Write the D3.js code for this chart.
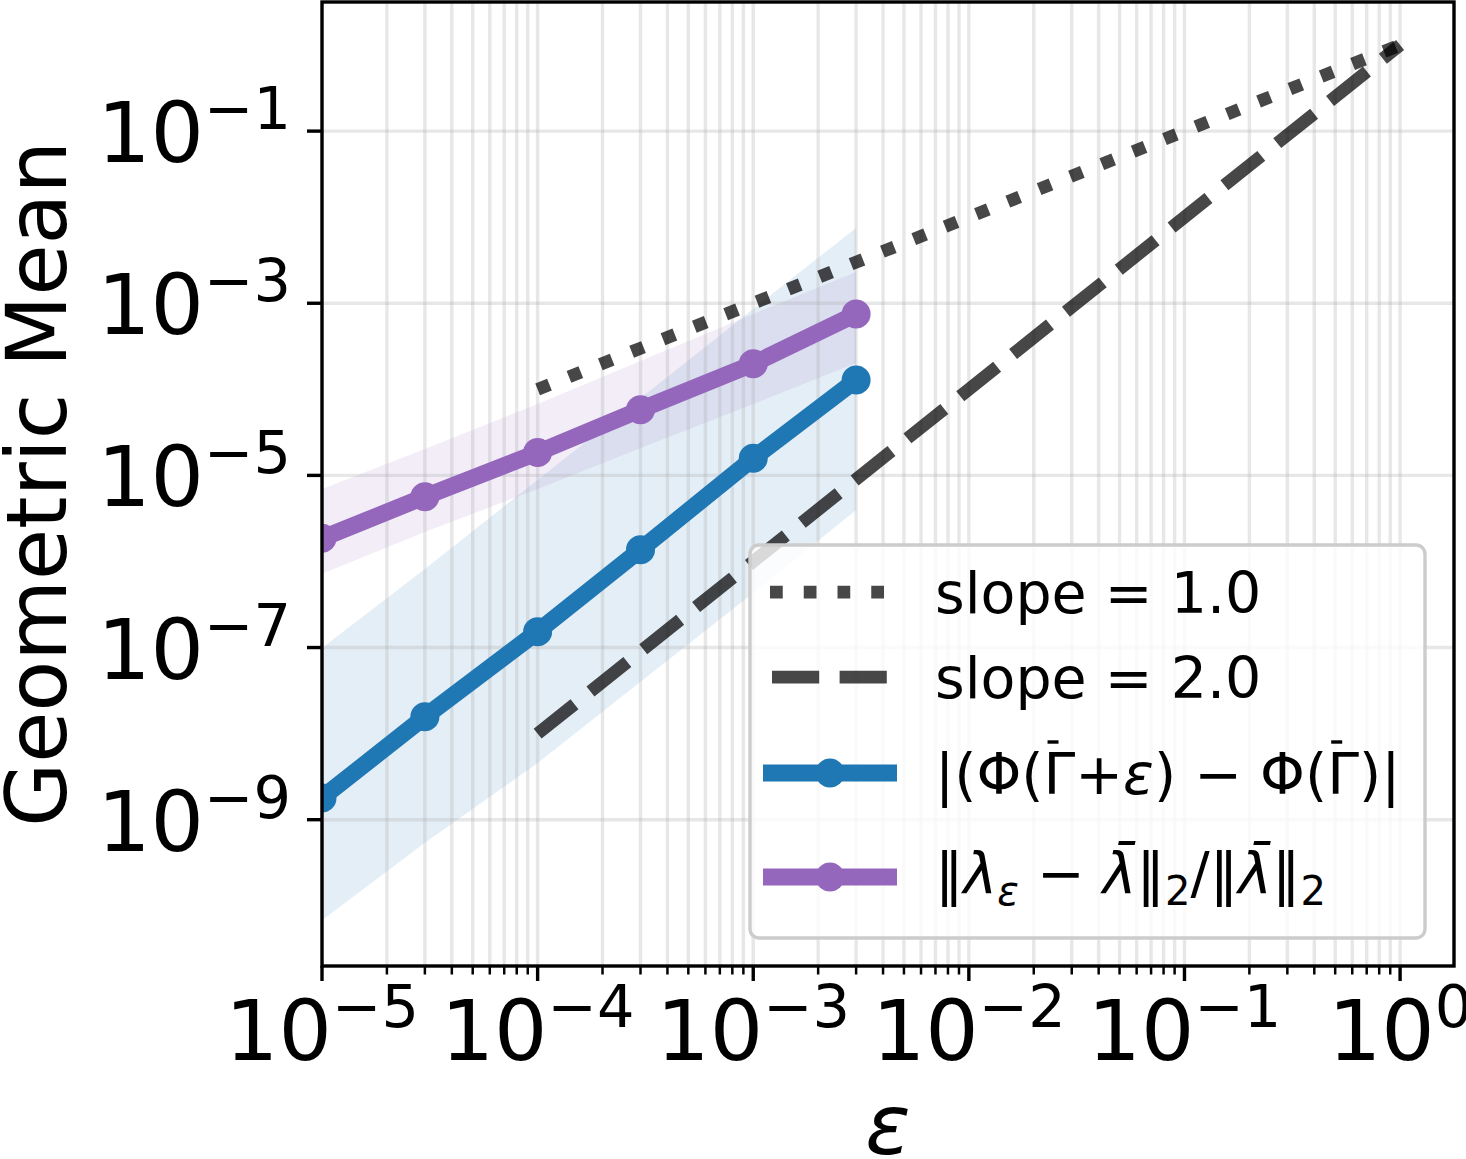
<!DOCTYPE html>
<html>
<head>
<meta charset="utf-8">
<script src="https://cdn.jsdelivr.net/npm/d3@7"></script>
<style>
  body { margin: 0; background: #fff; }
  text { font-family: "DejaVu Sans", sans-serif; fill: #000; }
</style>
</head>
<body>
<div id="chart"></div>
<script>
// values
const eps = [1e-5, 3e-5, 1e-4, 3e-4, 1e-3, 3e-3]
const phiMean = [1.79e-9, 1.57e-8, 1.53e-7, 1.37e-6, 1.58e-5, 1.28e-4]
const phiLow = [6.8e-11, 5.4e-10, 4.56e-9, 4.0e-8, 4.3e-7, 3.96e-6]
const phiHigh = [9.9e-8, 8.2e-7, 8.85e-6, 7.9e-5, 8.6e-4, 7.5e-3]
const lamMean = [1.86e-6, 5.66e-6, 1.84e-5, 5.8e-5, 1.98e-4, 7.5e-4]
const lamLow = [7.2e-7, 2.2e-6, 6.95e-6, 2.08e-5, 6.76e-5, 2.02e-4]
const lamHigh = [6.95e-6, 2.03e-5, 6.76e-5, 2.13e-4, 7.5e-4, 2.31e-3]
const refX = [1e-4, 1e0]
const slopes = [1.0, 2.0]
const xTickExp = [-5, -4, -3, -2, -1, 0]
const yTickExp = [-1, -3, -5, -7, -9]

const W = 1466, H = 1159
const L = 322, R = 1454, T = 2, B = 966
const blue = "#1f77b4", purple = "#9467bd"

let svg = d3.select("#chart").append("svg")
    .attr("width", W)
    .attr("height", H)

let x = d3.scaleLog().domain([1e-5, Math.pow(10, 0.25)]).range([L, R])
let y = d3.scaleLog().domain([Math.pow(10, -10.7), Math.pow(10, 0.5)]).range([B, T])

svg.append("clipPath").attr("id", "clip")
    .append("rect").attr("x", L).attr("y", T).attr("width", R - L).attr("height", B - T)

let plot = svg.append("g").attr("clip-path", "url(#clip)")

// bands
let area = d3.area().x(d => x(d.e)).y0(d => y(d.lo)).y1(d => y(d.hi))
let bands = [
    {c: blue, d: eps.map((e, i) => ({e: e, lo: phiLow[i], hi: phiHigh[i]}))},
    {c: purple, d: eps.map((e, i) => ({e: e, lo: lamLow[i], hi: lamHigh[i]}))}
]
bands.forEach(b => {
    plot.append("path").attr("d", area(b.d))
        .attr("fill", b.c).attr("fill-opacity", 0.12)
})

// grid
let minor = []
xTickExp.forEach(p => {
    for (let k = 1; k <= 9; k++) {
        let v = k * Math.pow(10, p)
        if (v <= x.domain()[1]) minor.push(v)
    }
})
plot.selectAll(".vgrid").data(minor).enter().append("line")
    .attr("x1", d => x(d)).attr("x2", d => x(d))
    .attr("y1", T).attr("y2", B)
    .attr("stroke", "#b0b0b0").attr("stroke-opacity", 0.3).attr("stroke-width", 3.4)
plot.selectAll(".hgrid").data(yTickExp).enter().append("line")
    .attr("x1", L).attr("x2", R)
    .attr("y1", d => y(Math.pow(10, d))).attr("y2", d => y(Math.pow(10, d)))
    .attr("stroke", "#b0b0b0").attr("stroke-opacity", 0.3).attr("stroke-width", 3.4)

// reference slopes
let line = d3.line().x(d => x(d[0])).y(d => y(d[1]))
let dashes = ["12.75,21", "47.2,20.4"]
slopes.forEach((s, i) => {
    plot.append("path")
        .attr("d", line(refX.map(v => [v, Math.pow(v, s)])))
        .attr("fill", "none").attr("stroke", "#000").attr("stroke-opacity", 0.72)
        .attr("stroke-width", 12.75).attr("stroke-dasharray", dashes[i])
})

// data lines
let series = [
    {c: blue, v: phiMean},
    {c: purple, v: lamMean}
]
series.forEach(s => {
    let pts = eps.map((e, i) => [e, s.v[i]])
    plot.append("path").attr("d", line(pts))
        .attr("fill", "none").attr("stroke", s.c).attr("stroke-width", 17)
        .attr("stroke-linejoin", "round")
    plot.selectAll(null).data(pts).enter().append("circle")
        .attr("cx", d => x(d[0])).attr("cy", d => y(d[1])).attr("r", 14.5)
        .attr("fill", s.c)
})

// frame
svg.append("rect").attr("x", L).attr("y", T).attr("width", R - L).attr("height", B - T)
    .attr("fill", "none").attr("stroke", "#000").attr("stroke-width", 3.4)

// x ticks
svg.selectAll(".xminor").data(minor.filter(v => Math.abs(Math.log10(v) % 1) > 1e-6)).enter().append("line")
    .attr("x1", d => x(d)).attr("x2", d => x(d)).attr("y1", B).attr("y2", B + 8.5)
    .attr("stroke", "#000").attr("stroke-width", 2.5)
svg.selectAll(".xmajor").data(xTickExp).enter().append("line")
    .attr("x1", d => x(Math.pow(10, d))).attr("x2", d => x(Math.pow(10, d)))
    .attr("y1", B).attr("y2", B + 15)
    .attr("stroke", "#000").attr("stroke-width", 3.4)

function powLabel(sel, p) {
    sel.append("tspan").attr("font-size", 84).text("10")
    sel.append("tspan").attr("font-size", 59).attr("dy", -33)
        .text(p < 0 ? "\u2212" + Math.abs(p) : String(p))
}
xTickExp.forEach(p => {
    let t = svg.append("text").attr("x", x(Math.pow(10, p))).attr("y", 1060)
        .attr("text-anchor", "middle")
    powLabel(t, p)
})

// y ticks
yTickExp.forEach(p => {
    let yy = y(Math.pow(10, p))
    svg.append("line").attr("x1", L - 15).attr("x2", L).attr("y1", yy).attr("y2", yy)
        .attr("stroke", "#000").attr("stroke-width", 3.4)
    let t = svg.append("text").attr("x", 291).attr("y", yy + 31)
        .attr("text-anchor", "end")
    powLabel(t, p)
})

// axis titles
svg.append("text").attr("x", (L + R) / 2).attr("y", 1154)
    .attr("text-anchor", "middle").attr("font-size", 84).attr("font-style", "italic")
    .text("\u03b5")
svg.append("text").attr("transform", "translate(66," + (T + B) / 2 + ") rotate(-90)")
    .attr("text-anchor", "middle").attr("font-size", 83)
    .text("Geometric Mean")

// legend
let lg = svg.append("g")
lg.append("rect").attr("x", 750).attr("y", 545).attr("width", 675).attr("height", 393)
    .attr("rx", 9).attr("fill", "#fff").attr("fill-opacity", 0.8)
    .attr("stroke", "#cccccc").attr("stroke-width", 3.4)

let rows = [592, 677, 773, 877]
let base = [613, 698, 794, 893]
lg.append("line").attr("x1", 770).attr("x2", 897).attr("y1", rows[0]).attr("y2", rows[0])
    .attr("stroke", "#000").attr("stroke-opacity", 0.72).attr("stroke-width", 12.75)
    .attr("stroke-dasharray", dashes[0])
lg.append("line").attr("x1", 772).attr("x2", 897).attr("y1", rows[1]).attr("y2", rows[1])
    .attr("stroke", "#000").attr("stroke-opacity", 0.72).attr("stroke-width", 12.75)
    .attr("stroke-dasharray", dashes[1])
series.forEach((s, i) => {
    let yy = rows[i + 2]
    lg.append("line").attr("x1", 763).attr("x2", 897).attr("y1", yy).attr("y2", yy)
        .attr("stroke", s.c).attr("stroke-width", 17)
    lg.append("circle").attr("cx", 830).attr("cy", yy).attr("r", 14.5).attr("fill", s.c)
})

slopes.forEach((s, i) => {
    lg.append("text").attr("x", 935).attr("y", base[i]).attr("font-size", 57)
        .text("slope = " + s.toFixed(1))
})

let t3 = lg.append("text").attr("x", 935).attr("y", base[2]).attr("font-size", 57)
    .attr("xml:space", "preserve")
t3.append("tspan").text("|(\u03a6(\u0393+")
t3.append("tspan").attr("font-style", "italic").text("\u03b5")
t3.append("tspan").text(") \u2212 \u03a6(\u0393)|")
// bars over the two Gammas
;[4, 13].forEach(ci => {
    let ext = t3.node().getExtentOfChar(ci)
    lg.append("line").attr("x1", ext.x + 4).attr("x2", ext.x + 15)
        .attr("y1", base[2] - 52).attr("y2", base[2] - 52)
        .attr("stroke", "#000").attr("stroke-width", 3.4)
})

let t4 = lg.append("text").attr("x", 935).attr("y", base[3]).attr("font-size", 57)
    .attr("xml:space", "preserve")
t4.append("tspan").text("\u2016")
t4.append("tspan").attr("font-style", "italic").text("\u03bb")
t4.append("tspan").attr("font-style", "italic").attr("font-size", 40).attr("dy", 12).text("\u03b5")
t4.append("tspan").attr("dy", -12).text(" \u2212 ")
t4.append("tspan").attr("font-style", "italic").text("\u03bb\u0304")
t4.append("tspan").text("\u2016")
t4.append("tspan").attr("font-size", 40).attr("dy", 12).text("2")
t4.append("tspan").attr("dy", -12).text("/\u2016")
t4.append("tspan").attr("font-style", "italic").text("\u03bb\u0304")
t4.append("tspan").text("\u2016")
t4.append("tspan").attr("font-size", 40).attr("dy", 12).text("2")
</script>
</body>
</html>
